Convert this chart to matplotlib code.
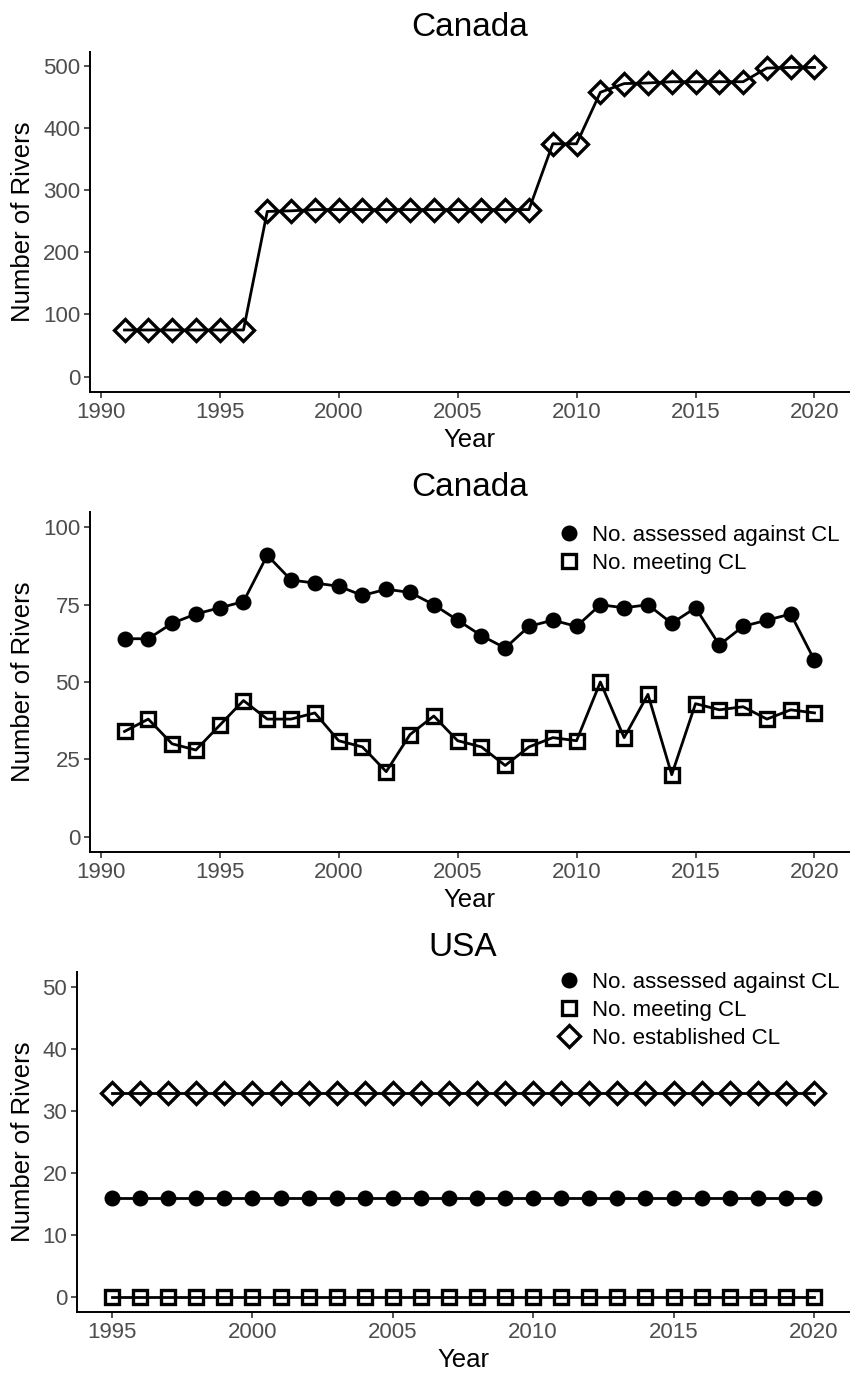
import matplotlib
matplotlib.use("Agg")
import matplotlib.pyplot as plt
from matplotlib.lines import Line2D

plt.rcParams['font.family'] = ['Liberation Sans', 'DejaVu Sans']

# data
years_ca = list(range(1991, 2021))
established_ca = [75, 75, 75, 75, 75, 75, 266, 267, 269, 269, 269, 269, 269, 269, 269,
                  269, 269, 269, 375, 375, 458, 472, 473, 475, 475, 475, 475, 497, 498, 498]
assessed_ca = [64, 64, 69, 72, 74, 76, 91, 83, 82, 81, 78, 80, 79, 75, 70,
               65, 61, 68, 70, 68, 75, 74, 75, 69, 74, 62, 68, 70, 72, 57]
meeting_ca = [34, 38, 30, 28, 36, 44, 38, 38, 40, 31, 29, 21, 33, 39, 31,
              29, 23, 29, 32, 31, 50, 32, 46, 20, 43, 41, 42, 38, 41, 40]

years_us = list(range(1995, 2021))
assessed_us = [16] * len(years_us)
meeting_us = [0] * len(years_us)
established_us = [33] * len(years_us)

lab_assessed = 'No. assessed against CL'
lab_meeting = 'No. meeting CL'
lab_established = 'No. established CL'

W, H = 850, 1374
fig = plt.figure(figsize=(W / 100, H / 100), dpi=100)

def px_axes(left, top, right, bottom):
    return fig.add_axes([left / W, 1 - bottom / H, (right - left) / W, (bottom - top) / H])

ax1 = px_axes(90, 52, 849, 392)
ax2 = px_axes(90, 512, 849, 852)
ax3 = px_axes(77, 972, 849, 1312)

ln = dict(color='black', lw=2.0)
circ = dict(marker='o', ms=10, mfc='black', mec='black', mew=1.5)
sq = dict(marker='s', ms=10, mfc='none', mec='black', mew=2.4)
dia = dict(marker='D', ms=11.5, mfc='none', mec='black', mew=2.4)

def style(ax, title, yl, ylim, yticks, xl, xticks, ylab_x):
    for s in ['top', 'right']:
        ax.spines[s].set_visible(False)
    for s in ['left', 'bottom']:
        ax.spines[s].set_linewidth(1.4)
        ax.spines[s].set_color('black')
    ax.set_ylim(*ylim)
    ax.set_xlim(*xl)
    ax.set_yticks(yticks)
    ax.set_xticks(xticks)
    ax.tick_params(length=4, width=1.2, color='#333333', labelcolor='#4D4D4D',
                   labelsize=16, pad=3)
    ax.set_ylabel(yl, fontsize=18.5, va='center')
    ax.yaxis.set_label_coords(ylab_x, 0.5)
    ax.set_xlabel('Year', fontsize=18.5, va='center')
    ax.xaxis.set_label_coords(0.5, -0.141)
    ax.text(0.5, 1.047, title, transform=ax.transAxes, ha='center', va='baseline',
            fontsize=24)

# top panel
ax1.plot(years_ca, established_ca, **ln, **dia)
style(ax1, 'Canada', 'Number of Rivers', (-24.9, 522.9), range(0, 501, 100),
      (1989.55, 2021.45), range(1990, 2021, 5), (23 - 90) / 759)

# middle panel
ax2.plot(years_ca, assessed_ca, **ln, **circ)
ax2.plot(years_ca, meeting_ca, **ln, **sq)
style(ax2, 'Canada', 'Number of Rivers', (-5, 105), range(0, 101, 25),
      (1989.55, 2021.45), range(1990, 2021, 5), (23 - 90) / 759)
h2 = [Line2D([], [], ls='none', **circ), Line2D([], [], ls='none', **sq)]
ax2.legend(h2, [lab_assessed, lab_meeting], loc='upper right', frameon=False,
           bbox_to_anchor=(0.988, 0.962), borderaxespad=0, borderpad=0,
           fontsize=16, labelspacing=0.32, handlelength=1.0, handletextpad=0.55)

# bottom panel
ax3.plot(years_us, assessed_us, **ln, **circ)
ax3.plot(years_us, meeting_us, **ln, **sq)
ax3.plot(years_us, established_us, **ln, **dia)
style(ax3, 'USA', 'Number of Rivers', (-2.5, 52.5), range(0, 51, 10),
      (1993.75, 2021.25), range(1995, 2021, 5), (23 - 77) / 772)
h3 = [Line2D([], [], ls='none', **circ), Line2D([], [], ls='none', **sq),
      Line2D([], [], ls='none', **dia)]
ax3.legend(h3, [lab_assessed, lab_meeting, lab_established], loc='upper right',
           frameon=False, bbox_to_anchor=(0.988, 1.0), borderaxespad=0, borderpad=0,
           fontsize=16, labelspacing=0.32, handlelength=1.0, handletextpad=0.55)

fig.savefig('out.png', dpi=100)
